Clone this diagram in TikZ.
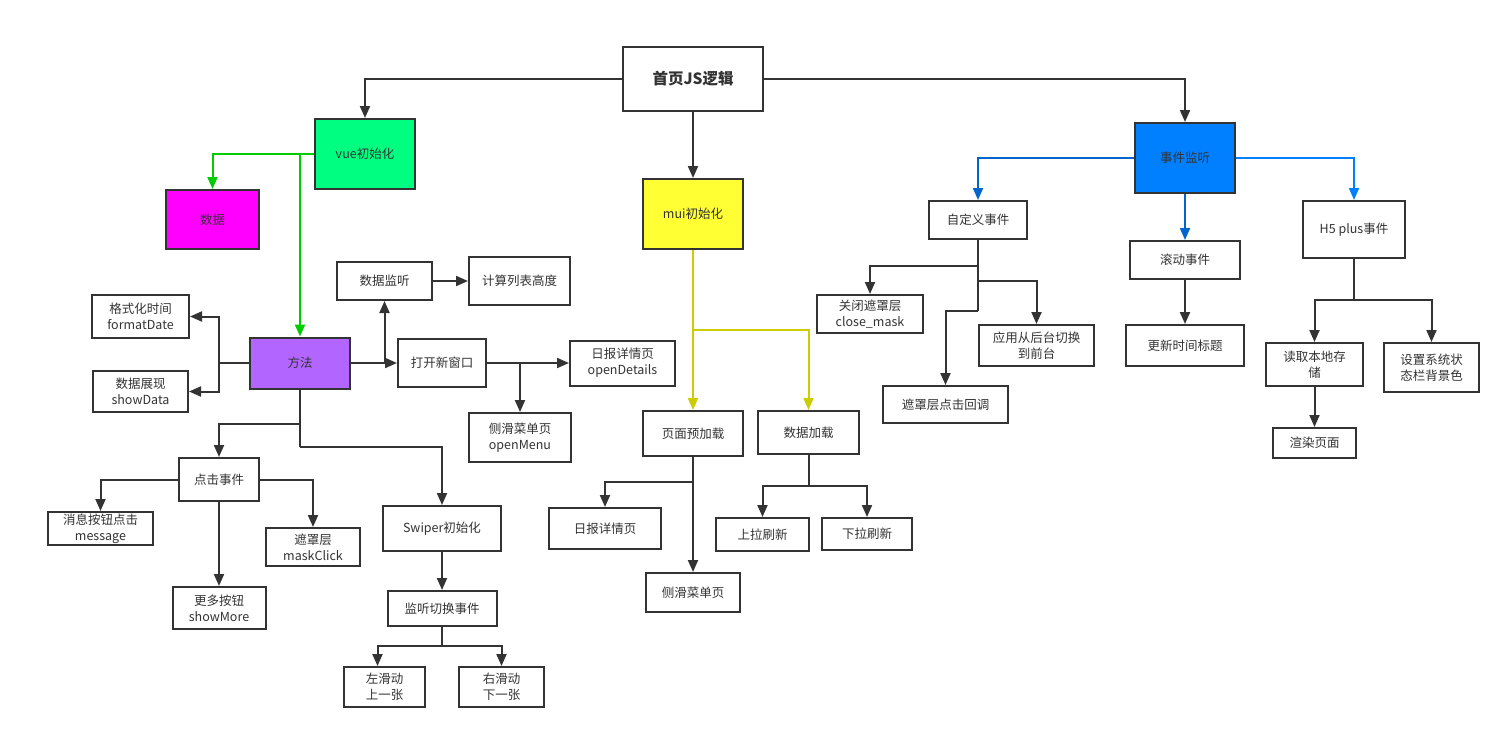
\documentclass[tikz,border=0pt]{standalone}
\usepackage{fontspec}
\newfontfamily\cjkfont{Noto Sans CJK SC}
\usetikzlibrary{arrows.meta}
\definecolor{mylinecolor}{HTML}{333333}
\definecolor{myvuecolor}{HTML}{00FF80}
\definecolor{mydatacolor}{HTML}{FF00FF}
\definecolor{mymethodcolor}{HTML}{B266FF}
\definecolor{mymuicolor}{HTML}{FFFF33}
\definecolor{myeventcolor}{HTML}{007FFF}
\definecolor{mygreenline}{HTML}{00CC00}
\definecolor{myyellowline}{HTML}{CCCC00}
\definecolor{mybluelinea}{HTML}{0066CC}
\definecolor{mybluelineb}{HTML}{0080FF}
\tikzset{%
  mybox/.style={draw=mylinecolor, line width=2pt, fill=white, rectangle, align=center, inner sep=0pt, text=mylinecolor, font=\cjkfont\fontsize{12.5pt}{16pt}\selectfont},%
  myarrow/.style={draw=mylinecolor, line width=2pt, -{Triangle[width=10pt,length=12pt]}},%
  myline/.style={draw=mylinecolor, line width=2pt},%
}

\begin{document}
\begin{tikzpicture}[x=1pt, y=-1pt]%
\useasboundingbox (0, 0) rectangle (1510, 739);%
% root
\node[mybox, minimum width=140, minimum height=64, font=\cjkfont\bfseries\fontsize{15.5pt}{18pt}\selectfont] (root) at (693, 79) {首页JS逻辑};%
% vue
\node[mybox, fill=myvuecolor, minimum width=100, minimum height=70] (vue) at (365, 154) {vue初始化};%
\node[mybox, fill=mydatacolor, minimum width=93, minimum height=59] (data) at (212.5, 219.5) {数据};%
\node[mybox, fill=mymethodcolor, minimum width=100, minimum height=51] (method) at (300, 363) {方法};%
\node[mybox, minimum width=97, minimum height=43] (fmtdate) at (140.5, 316.5) {格式化时间\\formatDate};%
\node[mybox, minimum width=95, minimum height=41] (showdata) at (140.5, 391.5) {数据展现\\showData};%
\node[mybox, minimum width=95, minimum height=38] (watch) at (384.5, 281) {数据监听};%
\node[mybox, minimum width=101, minimum height=48] (calcheight) at (519.5, 281) {计算列表高度};%
\node[mybox, minimum width=88, minimum height=48] (openwin) at (442, 363) {打开新窗口};%
\node[mybox, minimum width=105, minimum height=45] (opendetails) at (622.5, 363) {日报详情页\\openDetails};%
\node[mybox, minimum width=102, minimum height=49] (openmenu) at (520, 437.5) {侧滑菜单页\\openMenu};%
\node[mybox, minimum width=80, minimum height=43] (click) at (219, 479.5) {点击事件};%
\node[mybox, minimum width=105, minimum height=33] (message) at (100.5, 528.5) {消息按钮点击\\message};%
\node[mybox, minimum width=94, minimum height=38] (maskclick) at (313, 547) {遮罩层\\maskClick};%
\node[mybox, minimum width=93, minimum height=42] (showmore) at (219, 608) {更多按钮\\showMore};%
\node[mybox, minimum width=118, minimum height=45] (swiper) at (442, 528.5) {Swiper初始化};%
\node[mybox, minimum width=109, minimum height=35] (swlisten) at (442, 608.5) {监听切换事件};%
\node[mybox, minimum width=81, minimum height=40] (swleft) at (384.5, 687) {左滑动\\上一张};%
\node[mybox, minimum width=85, minimum height=40] (swright) at (501.5, 687) {右滑动\\下一张};%
% mui
\node[mybox, fill=mymuicolor, minimum width=100, minimum height=70] (mui) at (693, 214) {mui初始化};%
\node[mybox, minimum width=100, minimum height=45] (preload) at (693, 433.5) {页面预加载};%
\node[mybox, minimum width=101, minimum height=43] (dataload) at (808.5, 432.5) {数据加载};%
\node[mybox, minimum width=112, minimum height=41] (details) at (605, 528.5) {日报详情页};%
\node[mybox, minimum width=94, minimum height=39] (sidemenu) at (693, 592.5) {侧滑菜单页};%
\node[mybox, minimum width=93, minimum height=33] (pullup) at (762.5, 534.5) {上拉刷新};%
\node[mybox, minimum width=90, minimum height=32] (pulldown) at (867, 534) {下拉刷新};%
% events
\node[mybox, fill=myeventcolor, minimum width=100, minimum height=70] (events) at (1185, 158) {事件监听};%
\node[mybox, minimum width=98, minimum height=38] (custom) at (978, 220) {自定义事件};%
\node[mybox, minimum width=106, minimum height=38] (closemask) at (870, 314) {关闭遮罩层\\close\_mask};%
\node[mybox, minimum width=115, minimum height=41] (resume) at (1036.5, 345.5) {应用从后台切换\\到前台};%
\node[mybox, minimum width=125, minimum height=37] (maskcb) at (945.5, 404.5) {遮罩层点击回调};%
\node[mybox, minimum width=110, minimum height=38] (scroll) at (1185, 260) {滚动事件};%
\node[mybox, minimum width=118, minimum height=41] (updtitle) at (1185, 345.5) {更新时间标题};%
\node[mybox, minimum width=102, minimum height=57] (hfive) at (1354, 229.5) {H5 plus事件};%
\node[mybox, minimum width=97, minimum height=43] (readstore) at (1314.5, 364.5) {读取本地存\\储};%
\node[mybox, minimum width=95, minimum height=49] (statusbar) at (1431.5, 367.5) {设置系统状\\态栏背景色};%
\node[mybox, minimum width=83, minimum height=30] (render) at (1314.5, 443) {渲染页面};%
% forks
\coordinate (mfork) at (219, 363);%
\coordinate (mdowna) at (300, 424);%
\coordinate (mdownb) at (300, 447);%
\coordinate (swfork) at (442, 646);%
\coordinate (muifork) at (693, 330);%
\coordinate (plfork) at (693, 482);%
\coordinate (dlfork) at (808.5, 486);%
\coordinate (cfa) at (978, 266);%
\coordinate (cfb) at (978, 281);%
\coordinate (cfc) at (978, 311);%
\coordinate (hfork) at (1354, 300);%
% root connectors
\draw[myarrow] (root.west) -| (vue.north);%
\draw[myarrow] (root.south) -- (mui.north);%
\draw[myarrow] (root.east) -| (events.north);%
% vue connectors
\draw[myarrow, draw=mygreenline] (vue.west) -| (data.north);%
\draw[myarrow, draw=mygreenline] (vue.west -| method.north) -- (method.north);%
\draw[myline] (method.west) -- (mfork);%
\draw[myarrow] (mfork) |- (fmtdate.east);%
\draw[myarrow] (mfork) |- (showdata.east);%
\draw[myarrow] (method.east) -- (openwin.west);%
\draw[myarrow] (method.east -| watch.south) -- (watch.south);%
\draw[myarrow] (watch.east) -- (calcheight.west);%
\draw[myarrow] (openwin.east) -- (opendetails.west);%
\draw[myarrow] (openwin.east -| openmenu.north) -- (openmenu.north);%
\draw[myline] (method.south) -- (mdownb);%
\draw[myarrow] (mdowna) -| (click.north);%
\draw[myarrow] (mdownb) -| (swiper.north);%
\draw[myarrow] (click.west) -| (message.north);%
\draw[myarrow] (click.east) -| (maskclick.north);%
\draw[myarrow] (click.south) -- (showmore.north);%
\draw[myarrow] (swiper.south) -- (swlisten.north);%
\draw[myline] (swlisten.south) -- (swfork);%
\draw[myarrow] (swfork) -| ([xshift=-7pt]swleft.north);%
\draw[myarrow] (swfork) -| (swright.north);%
% mui connectors
\draw[myarrow, draw=myyellowline] (mui.south) -- (preload.north);%
\draw[myarrow, draw=myyellowline] (muifork) -| (dataload.north);%
\draw[myarrow] (preload.south) -- (sidemenu.north);%
\draw[myarrow] (plfork) -| (details.north);%
\draw[myline] (dataload.south) -- (dlfork);%
\draw[myarrow] (dlfork) -| (pullup.north);%
\draw[myarrow] (dlfork) -| (pulldown.north);%
% event connectors
\draw[myarrow, draw=mybluelinea] (events.west) -| (custom.north);%
\draw[myarrow, draw=mybluelinea] (events.south) -- (scroll.north);%
\draw[myarrow, draw=mybluelineb] (events.east) -| (hfive.north);%
\draw[myline] (custom.south) -- (cfc);%
\draw[myarrow] (cfa) -| (closemask.north);%
\draw[myarrow] (cfb) -| (resume.north);%
\draw[myarrow] (cfc) -| (maskcb.north);%
\draw[myarrow] (scroll.south) -- (updtitle.north);%
\draw[myline] (hfive.south) -- (hfork);%
\draw[myarrow] (hfork) -| (readstore.north);%
\draw[myarrow] (hfork) -| (statusbar.north);%
\draw[myarrow] (readstore.south) -- (render.north);%
\end{tikzpicture}
\end{document}
